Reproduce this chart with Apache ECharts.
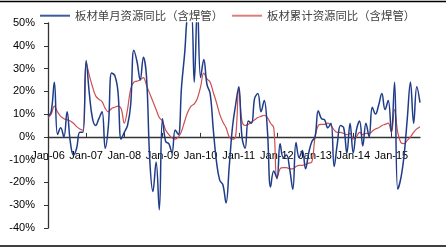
<!DOCTYPE html>
<html>
<head>
<meta charset="utf-8">
<script src="https://cdn.jsdelivr.net/npm/echarts@6/dist/echarts.min.js"></script>
<style>
html,body{margin:0;padding:0;background:#fff;}
#c{width:446px;height:249px;}
</style>
</head>
<body>
<div id="c"></div>
<script>
// Tick labels (years) and month names used to build the monthly categories
var years = ['06','07','08','09','10','11','12','13','14','15'];
var months = ['Jan','Feb','Mar','Apr','May','Jun','Jul','Aug','Sep','Oct','Nov','Dec'];

// 板材单月资源同比（含焊管） (%), Jan-06 .. Oct-15
var monthly = [
  9, 11, 24, 1, 4, 0, 11, -2, -8, -5, 2, 2,
  33.5, 19, 8, 5, 8, 11, -5, 5, 28, 27, 20, -1,
  2, 5, 14, 38, 33, 25, 35, 26, -10, -24, -11, -32,
  8, -2, -3, -7, 3, 1, 22, 37, 55, 56, 24, 58,
  26, 34, 23, 19, 3, -11, -19, -21, -29, -13, 4, 14,
  22, 0, -5, 7, 6, 17, 19, 11, 16, 3, -22, -15,
  -18, -3, -9, -8, -14, -23, -2.5, -9, -6, -14, -7, -2,
  0, 11.5, 8, 7.5, 4, 6, -13, -3, 5, 4, -7, 6,
  -7, 3, 7, -4, 6, 0, 13, 10, 14, 19, 12, 16,
  2, 24, -23, -18, -8, 8, 24, 6, 22, 15
];

// 板材累计资源同比（含焊管） (%)
var cumulative = [
  8.5, 10, 13.5, 11, 9, 8, 7.5, 7, 6, 4.5, 3.5, 3,
  32.5, 27, 22, 18, 16.5, 15.5, 12.5, 11, 12.5, 13, 13.5, 12.5,
  6, 12, 21, 24, 24.5, 25, 26, 22.5, 19, 15.5, 12, 8.5,
  7, 3, 1, -0.5, -1, 0, 2.5, 7, 11, 13.5, 14.5, 17,
  22, 28, 25.5, 24, 19.5, 15, 10, 6.5, 4, 0, -1, 0,
  21, 7, 5, 5.5, 6.5, 7.5, 8.5, 9, 9.5, 8.5, 6, 4,
  -18.5, -14, -13.5, -13.5, -14, -14, -13, -12.5, -12.5, -12, -11.5, -11,
  0, 5, 5.5, 5.5, 6, 5, 3, 2, 2, 1.5, 1, 1.5,
  -1, 0, 2, 1, 1.5, 1.5, 2.5, 3.5, 4, 5, 5.5, 6,
  2, 12, 2, -2.5, -3, -1.5, 0, 2, 3.5, 4.5
];

var seriesNames = ['板材单月资源同比（含焊管）', '板材累计资源同比（含焊管）'];

var categories = [];
for (var y = 0; y < years.length; y++) {
  for (var m = 0; m < months.length; m++) {
    if (categories.length < monthly.length) categories.push(months[m] + '-' + years[y]);
  }
}

var yMin = -40, yMax = 50;
var gridTop = 23, gridBottom = 21, chartH = 249;
var plotH = chartH - gridTop - gridBottom;
// distance from grid bottom up to the zero line
var zeroOffset = -plotH * (0 - yMin) / (yMax - yMin);

var chart = echarts.init(document.getElementById('c'), null, {renderer: 'canvas'});
chart.setOption({
  animation: false,
  backgroundColor: '#fff',
  grid: {left: 48, right: 26, top: gridTop, bottom: gridBottom, containLabel: false},
  legend: {
    left: 40, top: 10, padding: 0,
    itemWidth: 30, itemHeight: 2, itemGap: 9,
    icon: 'rect',
    textStyle: {fontFamily: 'Noto Sans CJK SC', fontSize: 11.4, color: '#404040', padding: [0,0,0,0]},
    data: seriesNames
  },
  graphic: [
    {type: 'line', shape: {x1: 0, y1: 1.5, x2: 446, y2: 1.5}, style: {stroke: '#000', lineWidth: 1.5}},
    {type: 'line', shape: {x1: 0, y1: 246, x2: 446, y2: 246}, style: {stroke: '#000', lineWidth: 1.5}}
  ],
  xAxis: {
    type: 'category',
    data: categories,
    boundaryGap: false,
    position: 'bottom',
    offset: zeroOffset,
    axisLine: {onZero: false, lineStyle: {color: '#333', width: 1.3}},
    axisTick: {show: true, inside: true, length: 4, interval: 11, lineStyle: {color: '#333'}},
    axisLabel: {interval: 11, margin: 14, fontFamily: 'Liberation Sans', fontSize: 11, color: '#000'},
    splitLine: {show: false}
  },
  yAxis: {
    type: 'value',
    min: yMin, max: yMax, interval: 10,
    axisLine: {show: true, lineStyle: {color: '#333', width: 1.3}},
    axisTick: {show: true, length: 4, lineStyle: {color: '#333'}},
    axisLabel: {formatter: '{value}%', margin: 13, fontFamily: 'Liberation Sans', fontSize: 11, color: '#000'},
    splitLine: {show: false}
  },
  series: [
    {
      name: seriesNames[0], type: 'line', data: monthly,
      smooth: 0.4, showSymbol: false, symbol: 'none', clip: true,
      lineStyle: {color: '#1F3C88', width: 1.5},
      itemStyle: {color: '#3F5C9A'},
      z: 3
    },
    {
      name: seriesNames[1], type: 'line', data: cumulative,
      smooth: 0.4, showSymbol: false, symbol: 'none', clip: true,
      lineStyle: {color: '#CD4F4F', width: 1.2},
      itemStyle: {color: '#E07C7C'},
      z: 2
    }
  ]
});
</script>
</body>
</html>
